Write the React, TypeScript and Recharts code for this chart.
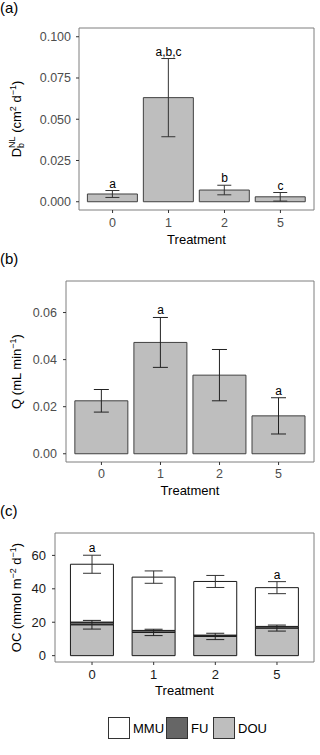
import React from "react";
import {
  ComposedChart,
  Bar,
  Line,
  XAxis,
  YAxis,
  CartesianGrid,
  ErrorBar,
  LabelList,
} from "recharts";

// ---- data ----
const treatments = ["0", "1", "2", "5"];

// (a) D_b^NL
const dbMean = [0.0047, 0.0631, 0.0071, 0.003];
const dbErr = [0.0021, 0.0237, 0.0029, 0.0026];
const dbSig = ["a", "a,b,c", "b", "c"];
const dbTicks = [0, 0.025, 0.05, 0.075, 0.1];

// (b) Q
const qMean = [0.0225, 0.0473, 0.0334, 0.0161];
const qErr = [0.0048, 0.0106, 0.0109, 0.0077];
const qSig = ["", "a", "", "a"];
const qTicks = [0, 0.02, 0.04, 0.06];

// (c) OC
const douMean = [18.5, 13.9, 11.5, 16.5];
const douErr = [2.6, 1.9, 1.9, 1.8];
const fuMean = [1.6, 1.2, 0.8, 1.0];
const mmuMean = [34.6, 31.9, 32.1, 23.2];
const totErr = [5.4, 3.7, 3.6, 3.6];
const ocSig = ["a", "", "", "a"];
const ocTicks = [0, 20, 40, 60];

const ocSeries = [
  { key: "dou", name: "DOU", fill: "#bebebe" },
  { key: "fu", name: "FU", fill: "#666666" },
  { key: "mmu", name: "MMU", fill: "#ffffff" },
];
const legendOrder = ["MMU", "FU", "DOU"];

const dataA = treatments.map((t, i) => ({
  t,
  mean: dbMean[i],
  err: dbErr[i],
  top: dbMean[i] + dbErr[i],
  sig: dbSig[i],
}));
const dataB = treatments.map((t, i) => ({
  t,
  mean: qMean[i],
  err: qErr[i],
  top: qMean[i] + qErr[i],
  sig: qSig[i],
}));
const dataC = treatments.map((t, i) => {
  const tot = douMean[i] + fuMean[i] + mmuMean[i];
  return {
    t,
    dou: douMean[i],
    fu: fuMean[i],
    mmu: mmuMean[i],
    douErr: douErr[i],
    tot,
    totErr: totErr[i],
    top: tot + totErr[i],
    sig: ocSig[i],
  };
});

// ---- styling ----
const FONT = "'Liberation Sans', Arial, Helvetica, sans-serif";
const BORDER = "#7f7f7f";
const TICK = "#333333";

const borderH = (p: any) => [p.offset.top, p.offset.top + p.offset.height];
const borderV = (p: any) => [p.offset.left, p.offset.left + p.offset.width];

const SUP = 9;

function YTitle({ viewBox, kind }: any) {
  const vb = viewBox || { x: 0, y: 0, width: 0, height: 0 };
  const cx = vb.x + 20.5;
  const cy = vb.y + vb.height / 2;
  let content: React.ReactNode = null;
  if (kind === "a") {
    content = (
      <>
        <tspan>D</tspan>
        <tspan fontSize={SUP} dy={3}>b</tspan>
        <tspan fontSize={SUP} dx={-5} dy={-9}>NL</tspan>
        <tspan dy={6}> (cm</tspan>
        <tspan fontSize={SUP} dy={-5}>2</tspan>
        <tspan dy={5}> d</tspan>
        <tspan fontSize={SUP} dy={-5}>−1</tspan>
        <tspan dy={5}>)</tspan>
      </>
    );
  } else if (kind === "b") {
    content = (
      <>
        <tspan>Q (mL min</tspan>
        <tspan fontSize={SUP} dy={-5}>−1</tspan>
        <tspan dy={5}>)</tspan>
      </>
    );
  } else {
    content = (
      <>
        <tspan>OC (mmol m</tspan>
        <tspan fontSize={SUP} dy={-5}>−2</tspan>
        <tspan dy={5}> d</tspan>
        <tspan fontSize={SUP} dy={-5}>−1</tspan>
        <tspan dy={5}>)</tspan>
      </>
    );
  }
  return (
    <g transform={`translate(${cx},${cy}) rotate(-90)`}>
      <text x={0} y={0} textAnchor="middle" fontSize={13} fill="#000" fontFamily={FONT}>
        {content}
      </text>
    </g>
  );
}

function PanelA() {
  return (
    <ComposedChart
      width={320}
      height={250}
      data={dataA}
      margin={{ top: 28, right: 6, bottom: 0, left: 0 }}
      barCategoryGap="5%"
    >
      <CartesianGrid
        stroke={BORDER}
        horizontalCoordinatesGenerator={borderH}
        verticalCoordinatesGenerator={borderV}
      />
      <XAxis
        dataKey="t"
        type="category"
        height={40}
        padding={{ left: 5.6, right: 5.6 }}
        axisLine={false}
        tickSize={3}
        tickMargin={5}
        tickLine={{ stroke: TICK }}
        tick={{ fontSize: 12.5, fill: "#4d4d4d" }}
        label={{ value: "Treatment", position: "insideBottom", offset: 6, fontSize: 13, fill: "#000" }}
      />
      <YAxis
        width={79}
        domain={[-0.005, 0.1053]}
        ticks={dbTicks}
        tickFormatter={(v: number) => v.toFixed(3)}
        axisLine={false}
        tickSize={3}
        tickMargin={5}
        tickLine={{ stroke: TICK }}
        tick={{ fontSize: 12.5, fill: "#4d4d4d" }}
        label={(p: any) => <YTitle viewBox={p.viewBox} kind="a" />}
      />
      <Bar dataKey="mean" fill="#bebebe" stroke="#404040" strokeWidth={1} isAnimationActive={false}>
        <ErrorBar dataKey="err" width={7} stroke="#333" strokeWidth={1} />
      </Bar>
      <Line
        dataKey="top"
        stroke="none"
        dot={false}
        activeDot={false}
        isAnimationActive={false}
      >
        <LabelList dataKey="sig" position="top" offset={3} fontSize={12} fill="#000" />
      </Line>
    </ComposedChart>
  );
}

function PanelB() {
  return (
    <ComposedChart
      width={320}
      height={245}
      data={dataB}
      margin={{ top: 26, right: 6, bottom: 0, left: 0 }}
      barCategoryGap="5%"
    >
      <CartesianGrid
        stroke={BORDER}
        horizontalCoordinatesGenerator={borderH}
        verticalCoordinatesGenerator={borderV}
      />
      <XAxis
        dataKey="t"
        type="category"
        height={38}
        padding={{ left: 5.9, right: 5.9 }}
        axisLine={false}
        tickSize={3}
        tickMargin={4.5}
        tickLine={{ stroke: TICK }}
        tick={{ fontSize: 12.5, fill: "#4d4d4d" }}
        label={{ value: "Treatment", position: "insideBottom", offset: 5, fontSize: 13, fill: "#000" }}
      />
      <YAxis
        width={66}
        domain={[-0.0035, 0.0734]}
        ticks={qTicks}
        tickFormatter={(v: number) => v.toFixed(2)}
        axisLine={false}
        tickSize={3}
        tickMargin={6}
        tickLine={{ stroke: TICK }}
        tick={{ fontSize: 12.5, fill: "#4d4d4d" }}
        label={(p: any) => <YTitle viewBox={p.viewBox} kind="b" />}
      />
      <Bar dataKey="mean" fill="#bebebe" stroke="#404040" strokeWidth={1} isAnimationActive={false}>
        <ErrorBar dataKey="err" width={7.5} stroke="#222" strokeWidth={1} />
      </Bar>
      <Line dataKey="top" stroke="none" dot={false} activeDot={false} isAnimationActive={false}>
        <LabelList dataKey="sig" position="top" offset={3} fontSize={12} fill="#000" />
      </Line>
    </ComposedChart>
  );
}

function PanelC() {
  return (
    <ComposedChart
      width={320}
      height={205}
      data={dataC}
      margin={{ top: 33, right: 6, bottom: 0, left: 0 }}
      barCategoryGap="15%"
    >
      <CartesianGrid
        stroke={BORDER}
        horizontalCoordinatesGenerator={borderH}
        verticalCoordinatesGenerator={borderV}
      />
      <XAxis
        dataKey="t"
        type="category"
        height={43}
        padding={{ left: 6.2, right: 6.2 }}
        axisLine={false}
        tickSize={3}
        tickMargin={5}
        tickLine={{ stroke: TICK }}
        tick={{ fontSize: 13, fill: "#1a1a1a" }}
        label={{ value: "Treatment", position: "insideBottom", offset: 10, fontSize: 13, fill: "#000" }}
      />
      <YAxis
        width={55}
        domain={[-3.8, 73.4]}
        ticks={ocTicks}
        axisLine={false}
        tickSize={3}
        tickMargin={6}
        tickLine={{ stroke: TICK }}
        tick={{ fontSize: 13, fill: "#1a1a1a" }}
        label={(p: any) => <YTitle viewBox={p.viewBox} kind="c" />}
      />
      {ocSeries.map((s) => (
        <Bar
          key={s.key}
          dataKey={s.key}
          stackId="oc"
          fill={s.fill}
          stroke="#1a1a1a"
          strokeWidth={1}
          isAnimationActive={false}
        >
          {s.key === "dou" ? <ErrorBar dataKey="douErr" width={9} stroke="#222" strokeWidth={1} /> : null}
        </Bar>
      ))}
      <Line dataKey="tot" stroke="none" dot={false} activeDot={false} isAnimationActive={false}>
        <ErrorBar dataKey="totErr" width={9} stroke="#333" strokeWidth={1} />
      </Line>
      <Line dataKey="top" stroke="none" dot={false} activeDot={false} isAnimationActive={false}>
        <LabelList dataKey="sig" position="top" offset={3} fontSize={12} fill="#000" />
      </Line>
    </ComposedChart>
  );
}

const legendX = [108, 166, 213];

export default function App() {
  return (
    <div
      style={{
        position: "absolute",
        left: 0,
        top: 0,
        width: 320,
        height: 755,
        background: "#fff",
        fontFamily: FONT,
        overflow: "hidden",
      }}
    >
      <div style={{ position: "absolute", left: 0, top: 0 }}>
        <PanelA />
      </div>
      <div style={{ position: "absolute", left: 0, top: 255 }}>
        <PanelB />
      </div>
      <div style={{ position: "absolute", left: 0, top: 500 }}>
        <PanelC />
      </div>
      <svg
        width={320}
        height={755}
        style={{ position: "absolute", left: 0, top: 0, pointerEvents: "none" }}
        fontFamily={FONT}
      >
        <text x={0} y={12.5} fontSize={15} fill="#000">(a)</text>
        <text x={0} y={264} fontSize={15} fill="#000">(b)</text>
        <text x={0} y={516} fontSize={15} fill="#000">(c)</text>
        {legendOrder.map((name, i) => {
          const s = ocSeries.find((x) => x.name === name)!;
          const x = legendX[i];
          return (
            <g key={name}>
              <rect x={x + 0.5} y={717.5} width={21} height={21} fill={s.fill} stroke="#333" strokeWidth={1} />
              <text x={x + 25} y={732.5} fontSize={13} fill="#000">
                {name}
              </text>
            </g>
          );
        })}
      </svg>
    </div>
  );
}
